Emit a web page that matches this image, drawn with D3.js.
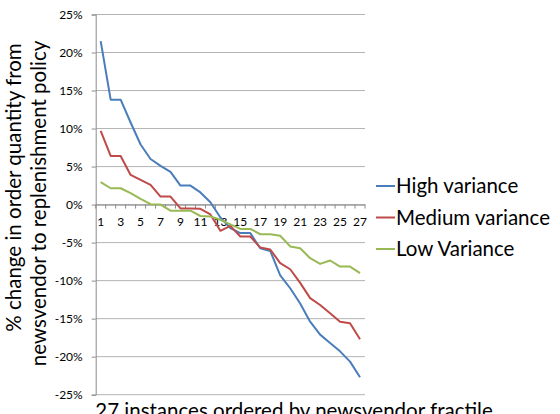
<!DOCTYPE html>
<html>
<head>
<meta charset="utf-8">
<script src="https://cdn.jsdelivr.net/npm/d3@7"></script>
<style>
  body { margin: 0; background: #fff; }
  text { font-family: Lato, "Noto Sans", sans-serif; fill: #000; }
</style>
</head>
<body>
<svg id="chart" width="560" height="414"></svg>
<script>
// instances 1..27
let instances = d3.range(1, 28);

let highVariance = [21.5, 13.8, 13.8, 10.8, 7.9, 6.0, 5.1, 4.3, 2.5, 2.5, 1.6, 0.3, -1.7, -3.1,
    -3.75, -3.75, -5.75, -6.1, -9.3, -11.0, -13.0, -15.4, -17.1, -18.2, -19.3, -20.65, -22.7];
let mediumVariance = [9.7, 6.4, 6.4, 3.9, 3.25, 2.6, 1.05, 1.05, -0.5, -0.5, -0.55, -1.3, -3.45, -2.8,
    -4.2, -4.2, -5.65, -5.9, -7.7, -8.5, -10.3, -12.3, -13.2, -14.3, -15.4, -15.6, -17.7];
let lowVariance = [2.95, 2.15, 2.15, 1.5, 0.75, 0.05, 0, -0.8, -0.8, -0.8, -1.5, -1.55, -2.0, -2.6,
    -3.2, -3.2, -3.9, -3.9, -4.1, -5.5, -5.75, -7.05, -7.8, -7.35, -8.15, -8.15, -9.0];

let yTicks = [25, 20, 15, 10, 5, 0, -5, -10, -15, -20, -25];
let xTickLabels = [1, 3, 5, 7, 9, 11, 13, 15, 17, 19, 21, 23, 25, 27];

let series = [
    {name: 'High variance', values: highVariance, color: '#4a7ebb'},
    {name: 'Medium variance', values: mediumVariance, color: '#be4b48'},
    {name: 'Low Variance', values: lowVariance, color: '#98b954'}
];

let svg = d3.select('#chart');

let plotLeft = 95.7, plotRight = 365, plotTop = 14.5, plotBottom = 394.7;

let x = d3.scaleBand().domain(instances).range([plotLeft, plotRight]);
let y = d3.scaleLinear().domain([-25, 25]).range([plotBottom, plotTop]);

// gridlines
svg.append('g')
   .selectAll('line')
   .data(yTicks)
   .enter()
   .append('line')
   .attr('x1', plotLeft)
   .attr('x2', plotRight)
   .attr('y1', d => y(d))
   .attr('y2', d => y(d))
   .attr('stroke', '#b3b3b3')
   .attr('stroke-width', 1);

// y axis
let yAxis = d3.axisLeft(y)
    .tickValues(yTicks)
    .tickSize(4)
    .tickFormat(d => d + '%');

let gy = svg.append('g')
   .attr('transform', `translate(${plotLeft},0)`)
   .call(yAxis);
gy.select('.domain').attr('stroke', '#8c8c8c');
gy.selectAll('.tick line').attr('stroke', '#8c8c8c');
gy.selectAll('.tick text')
  .attr('x', -13)
  .style('font-family', 'Lato, sans-serif')
  .style('font-size', '12px')
  .attr('fill', '#000');

// x axis on the zero line
let xAxis = d3.axisBottom(x)
    .tickSize(0)
    .tickFormat(d => xTickLabels.includes(d) ? d : '');

let gx = svg.append('g')
   .attr('transform', `translate(0,${y(0)})`)
   .call(xAxis);
gx.select('.domain').attr('stroke', '#8c8c8c');
gx.selectAll('.tick text')
  .attr('y', 13)
  .style('font-family', 'Lato, sans-serif')
  .style('font-size', '12px')
  .attr('fill', '#000');

// category boundary ticks
let bounds = instances.map(d => x(d)).concat([plotRight]);
gx.append('g')
  .selectAll('line')
  .data(bounds)
  .enter()
  .append('line')
  .attr('x1', d => d)
  .attr('x2', d => d)
  .attr('y1', 0)
  .attr('y2', 4)
  .attr('stroke', '#8c8c8c');

// lines
let line = d3.line()
    .x((d, i) => x(instances[i]) + x.bandwidth() / 2)
    .y(d => y(d));

svg.append('g')
   .selectAll('path')
   .data(series)
   .enter()
   .append('path')
   .attr('d', d => line(d.values))
   .attr('fill', 'none')
   .attr('stroke', d => d.color)
   .attr('stroke-width', 2)
   .attr('stroke-linejoin', 'round');

// legend
let legend = svg.append('g')
    .selectAll('g')
    .data(series)
    .enter()
    .append('g')
    .attr('transform', (d, i) => `translate(376,${186 + i * 31.5})`);

legend.append('line')
      .attr('x1', 0)
      .attr('x2', 19)
      .attr('stroke', d => d.color)
      .attr('stroke-width', 2);

legend.append('text')
      .attr('x', 20)
      .attr('y', 7)
      .style('font-size', '20.5px')
      .text(d => d.name);

// axis titles
svg.append('text')
   .attr('transform', 'translate(21,187.5) rotate(-90)')
   .attr('text-anchor', 'middle')
   .style('font-size', '20.5px')
   .text('% change in order quantity from');

svg.append('text')
   .attr('transform', 'translate(46,203.5) rotate(-90)')
   .attr('text-anchor', 'middle')
   .style('font-size', '20.5px')
   .text('newsvendor to replenishment policy');

svg.append('text')
   .attr('x', 294)
   .attr('y', 418)
   .attr('text-anchor', 'middle')
   .style('font-size', '20.5px')
   .text('27 instances ordered by newsvendor fractile');
</script>
</body>
</html>
